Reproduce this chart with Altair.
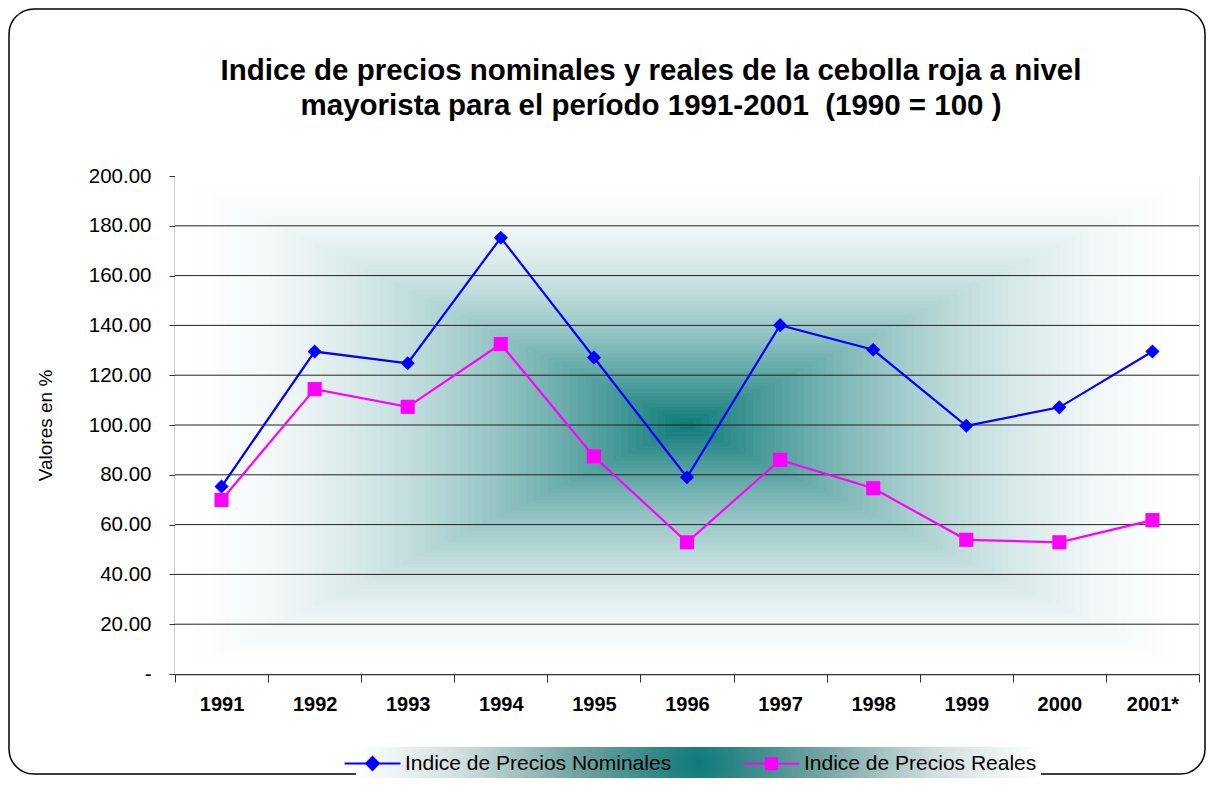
import altair as alt
import pandas as pd

# ---------------- data ----------------
years = ["1991", "1992", "1993", "1994", "1995", "1996", "1997", "1998", "1999", "2000", "2001*"]
nominal = [75.3, 129.5, 124.8, 175.2, 127.1, 79.0, 140.1, 130.2, 99.7, 107.1, 129.5]
real = [69.9, 114.4, 107.3, 132.5, 87.4, 52.9, 86.0, 74.6, 53.9, 52.9, 61.8]
series_names = ["Indice de Precios Nominales", "Indice de Precios Reales"]
series_colors = ["#0000FF", "#FF00FF"]
series_shapes = ["diamond", "square"]
y_ticks = [0, 20, 40, 60, 80, 100, 120, 140, 160, 180, 200]
grid_values = [20, 40, 60, 80, 100, 120, 140, 160, 180]
title_lines = [
    "Indice de precios nominales y reales de la cebolla roja a nivel",
    "mayorista para el período 1991-2001\u00a0 (1990 = 100 )",
]

W, H = 1024, 498
FONT = "Liberation Sans"

df = pd.DataFrame({
    "anio": years * 2,
    "valor": nominal + real,
    "serie": [series_names[0]] * len(years) + [series_names[1]] * len(years),
})

# ------------- plot-area "from centre" gradient (decoration) -------------
N = 70
teal = (14, 122, 120)
bg_rows = []
for k in range(N):
    d = 1 - k / N
    s = 1 - (d - 0.5 / N)
    t = s ** 1.75
    r, g, b = [round(255 + (c - 255) * t) for c in teal]
    bg_rows.append({"x0": 0.5 - d / 2, "x1": 0.5 + d / 2,
                    "y0": 0.5 - d / 2, "y1": 0.5 + d / 2,
                    "c": f"#{r:02x}{g:02x}{b:02x}", "k": k})
bg_df = pd.DataFrame(bg_rows)

bg = alt.Chart(bg_df).mark_rect().encode(
    x=alt.X("x0:Q", scale=alt.Scale(domain=[0, 1], nice=False, zero=False), axis=None),
    x2="x1",
    y=alt.Y("y0:Q", scale=alt.Scale(domain=[0, 1], nice=False, zero=False), axis=None),
    y2="y1",
    color=alt.Color("c:N", scale=None),
    order=alt.Order("k:Q"),
)

# ------------- scales / axes -------------
yscale = alt.Scale(domain=[0, 200], nice=False, zero=True)
yaxis = alt.Axis(
    values=y_ticks, grid=False, orient="left",
    labelExpr="datum.value === 0 ? '-\u00a0\u00a0\u00a0\u00a0\u00a0\u00a0' : format(datum.value, '.2f')",
    title="Valores en %", titleFont=FONT, titleFontSize=19, titleFontWeight="normal",
    titleColor="black", titlePadding=33,
    labelFont=FONT, labelFontSize=20.5, labelColor="black", labelPadding=18,
    tickSize=6, tickColor="#333333", domainColor="#333333", domainWidth=1.5,
)
xscale = alt.Scale(type="band", paddingInner=0, paddingOuter=0, domain=years)
xaxis = alt.Axis(
    title=None, orient="bottom", labelAngle=0, tickBand="extent",
    labelFont=FONT, labelFontSize=20, labelFontWeight="bold", labelColor="black",
    labelPadding=12, tickSize=8, tickColor="#333333",
    domainColor="#333333", domainWidth=1.5,
)

cscale = alt.Scale(domain=series_names, range=series_colors)

path_nom = "M-2.5,0H2.5M0,-0.58L0.58,0L0,0.58L-0.58,0Z"
path_real = "M-2.5,0H2.5M-0.5,-0.5H0.5V0.5H-0.5Z"

legend_bg = ("{gradient: 'radial', x1: 0.5, y1: 0.5, r1: 0, x2: 0.5, y2: 0.5, r2: 0.5, "
             "stops: [{offset: 0, color: '#0e7a78'}, {offset: 0.35, color: '#6fa3a1'}, "
             "{offset: 0.7, color: '#d2dfdf'}, {offset: 1, color: '#ffffff'}]}")

legend = alt.Legend(
    title=None, orient="none", legendX=181, legendY=571, direction="horizontal",
    symbolSize=500, symbolStrokeWidth=2, symbolOpacity=1,
    symbolType=alt.ExprRef(expr=f"datum.value === '{series_names[0]}' ? '{path_nom}' : '{path_real}'"),
    symbolStrokeColor=alt.ExprRef(expr="scale('color', datum.value)"),
    symbolFillColor=alt.ExprRef(expr="scale('color', datum.value)"),
    fillColor=alt.ExprRef(expr=legend_bg),
    labelFont=FONT, labelFontSize=21, labelColor="black", labelOffset=20,
    labelLimit=500, columnPadding=67, padding=4,
)

grid = alt.Chart(pd.DataFrame({"v": grid_values})).mark_rule(
    color="#222222", strokeWidth=1
).encode(y=alt.Y("v:Q", scale=yscale, axis=yaxis))

lines = alt.Chart(df).mark_line(strokeWidth=2.2).encode(
    x=alt.X("anio:N", sort=years, scale=xscale, axis=xaxis),
    y=alt.Y("valor:Q", scale=yscale, axis=yaxis),
    color=alt.Color("serie:N", scale=cscale, legend=legend),
    detail="serie:N",
)

point_layers = []
for name, shp in zip(series_names, series_shapes):
    point_layers.append(
        alt.Chart(df).transform_filter(alt.datum.serie == name)
        .mark_point(filled=True, size=200, opacity=1, shape=shp)
        .encode(
            x=alt.X("anio:N", sort=years, scale=xscale, axis=xaxis),
            y=alt.Y("valor:Q", scale=yscale, axis=yaxis),
            color=alt.Color("serie:N", scale=cscale, legend=legend),
        )
    )

inner = alt.layer(grid, lines, *point_layers)

border = alt.Chart(pd.DataFrame({"a": [0]})).mark_rect(
    fill="transparent", stroke="black", strokeWidth=1.5, cornerRadius=25
).encode(
    x=alt.value(-166), x2=alt.value(W + 6),
    y=alt.value(-167), y2=alt.value(H + 100),
)

chart = alt.layer(bg, inner, border).resolve_scale(
    x="independent", y="independent"
).properties(
    width=W, height=H,
    autosize=alt.AutoSizeParams(type="none"),
    padding={"left": 167, "top": 168, "right": 8, "bottom": 104},
    title=alt.TitleParams(
        text=title_lines, font=FONT, fontSize=29.5, fontWeight="bold", color="black",
        anchor="middle", dx=-36, offset=-136, lineHeight=35, baseline="alphabetic",
    ),
).configure_view(
    stroke="#888888", strokeWidth=1.5
).configure(background="white")

chart.save("out.html", embed_options={"renderer": "svg", "actions": False})
